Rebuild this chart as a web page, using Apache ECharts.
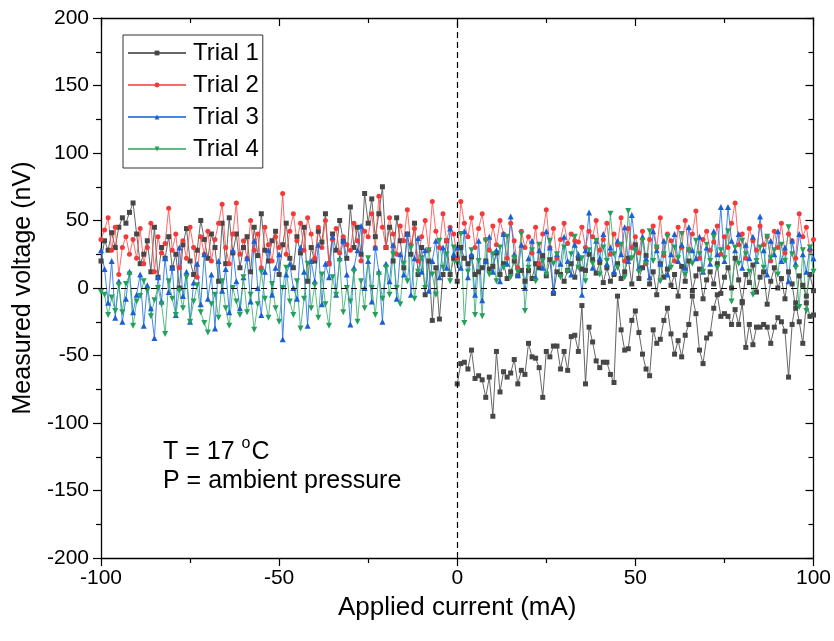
<!DOCTYPE html>
<html>
<head>
<meta charset="utf-8">
<script src="https://cdn.jsdelivr.net/npm/echarts@6/dist/echarts.min.js"></script>
<style>
  html, body { margin: 0; padding: 0; background: #fff; }
  #chart { width: 834px; height: 641px; }
</style>
</head>
<body>
<div id="chart"></div>
<script>
// applied current grid, mA (one point per mA)
const current = [];
for (let i = -100; i <= 100; i++) current.push(i);
const currentPos = current.filter(c => c >= 0);

// measured voltage, nV
const trial1 = [
  20, 35, 28, 41, 30, 45, 52, 48, 56, 63,
  40, 18, 25, 35, 12, 45, 8, 30, 22, 38,
  15, 25, 0, 32, 44, 20, 10, 28, 50, 36,
  22, 40, 30, 5, 48, 18, 52, 26, 40, 15,
  30, 38, 12, 45, 24, 55, 28, 20, 35, 42,
  10, 32, 48, 22, 15, 38, 26, 45, 5, 30,
  20, 42, 34, 55, 18, 40, 28, 50, 35, 22,
  60, 30, 45, 25, 70, 48, 66, 38, 55, 75,
  30, 45, 20, 52, 35, 15, 40, 25, 48, 10,
  30, -5, 20, -24, 15, -23, 10, 35, 10, 22,
  5,
  30, 22, 18, 23, 10, 12, 15, 20, 14, 16,
  26, 10, 18, 7, 12, 20, 9, 13, 5, 13,
  7, 18, 15, 24, 9, 21, -4, 12, 10, 5,
  13, 18, 8, 22, 14, 13, 25, 21, 11, 19,
  4, 15, 5, 10, 18, 7, 12, 22, 3, 32,
  7, 15, 24, 3, 12, -5, 18, 8, 14, 2,
  10, -6, 16, 5, 20, -2, 9, 14, -8, 6,
  12, 3, 18, -4, 8, 15, 0, 22, 6, -10,
  10, 4, 17, -3, 8, 12, -12, 5, 15, 0,
  7, -8, 12, 3, -15, 9, 2, -6, 10, -2
];
// second run of trial 1, 0..100 mA
const trial1Low = [
  -71, -56, -55, -60, -46, -67, -65, -68, -81, -66,
  -95, -47, -77, -62, -66, -63, -53, -71, -61, -64,
  -41, -51, -52, -59, -81, -47, -51, -43, -43, -60,
  -47, -61, -36, -35, -47, -13, -71, -29, -40, -54,
  -59, -55, -55, -64, -70, -6, -31, -46, -45, -24,
  -17, -33, -49, -60, -65, -31, -41, -38, -24, -15,
  -34, -49, -39, -51, -35, -27, -6, -19, -46, -56,
  -37, -34, -15, -5, -21, -19, -21, -27, -16, -27,
  -11, -44, -27, -42, -29, -29, -27, -29, -41, -29,
  -22, -25, -32, -66, -27, -11, -25, -41, -11, -21,
  -20
];
const trial2 = [
  36, 43, 52, 28, 45, 10, 30, 38, 25, 36,
  22, 44, 18, 30, 48, 12, 38, 26, 33, 59,
  28, 40, 15, 35, 22, 45, 30, 8, 38, 25,
  42, 20, 36, 48, 62, 30, 18, 40, 63, 25,
  35, 22, 50, 28, 40, 15, 45, 32, 20, 38,
  30, 70, 25, 42, 55, 35, 48, 28, 52, 40,
  22, 45, 30, 50, 18, 36, 44, 26, 38, 32,
  28, 48, 35, 20, 42, 38, 55, 30, 68, 45,
  30, 52, 40, 25, 46, 35, 58, 32, 44, 20,
  38, 50, 28, 64, 42, 30, 55, 35, 45, 40,
  22,
  64, 48, 38, 52, 30, 44, 55, 36, 28, 46,
  32, 50, 40, 22, 48, 35, 15, 42, 30, 38,
  26, 45, 18, 40, 58, 30, 44, 22, 36, 48,
  33, 40, 35, 34, 45, 30, 42, 38, 50, 28,
  36, 48, 25, 40, 32, 52, 20, 44, 30, 38,
  26, 42, 18, 36, 46, 30, 52, 24, 40, 35,
  20, 45, 30, 50, 28, 40, 57, 22, 36, 42,
  28, 34, 46, 25, 38, 30, 48, 63, 32, 40,
  22, 44, 35, 28, 46, 32, 38, 20, 42, 30,
  48, 26, 40, 35, 22, 55, 38, 45, 28, 36
];
const trial3 = [
  28, 14, -11, 20, -22, 5, -25, -8, 12, -18,
  -5, 10, -28, 2, -15, -37, 8, -10, 22, -3,
  15, -20, 30, -6, 12, -25, 4, 18, -12, 25,
  -8, 10, -30, 20, -2, 14, -18, 28, 5, -15,
  8, 22, -10, 35, 0, -20, 12, 28, -5, 15,
  25, -38, 10, 18, 0, -8, 30, 12, -28, 20,
  5, 32, -12, 18, 8, 38, -5, 22, 35, 10,
  -27, 15, 28, 46, 0, 20, -10, 30, 12, -25,
  18, 5, 32, -8, 25, 10, 40, -5, 22, 37,
  12, 28, -2, 20, 35, 8, 30, 15, 44, 25,
  30,
  15, 42, 8, 25, -5, 35, -9, 20, 38, 12,
  28, 5, 40, 18, 53, 25, 10, 32, 0, 22,
  35, 8, 28, 15, 42, 30, -2, 25, 18, 38,
  20, 10, 32, 25, -5, 28, 56, 15, 35, 22,
  40, 18, 30, 12, 35, 25, 45, 20, 54, 30,
  15, 38, 22, 8, 42, 28, 18, 35, 10, 25,
  40, 20, 32, 15, 45, 28, 22, 38, 12, 30,
  18, 42, 25, 60, 20, 60, 35, 28, 40, 15,
  32, 22, 38, 20, 53, 28, 10, 35, 25, 42,
  20, 30, 5, 35, 18, 40, 25, 12, 30, 22
];
const trial4 = [
  -3, -5, -20, -7, -17, 2, -18, 3, 10, -28,
  -10, -6, 5, -2, -21, -9, 0, -12, -34, 5,
  -8, -20, -2, -15, 8, -25, -10, 2, -18, -26,
  -33, -12, -5, -22, 5, -15, -28, 0, -10, -20,
  8, -18, -5, -31, -12, 12, -8, -22, 3, -15,
  -25, 0, 15, -10, -20, 5, -30, -8, 18, -15,
  2, -22, 10, -12, -28, 8, -5, 20, -18, 0,
  -10, 12, -25, 5, -15, 22, 0, -20, 10, -8,
  15, -5, 25, 0, -12, 18, 5, 30, -8, 12,
  22, 0, 28, 10, -5, 35, 15, 25, 5, 30,
  18,
  40, -26, 12, 28, -20, 20, -21, 35, 10, 25,
  5, 30, 15, 38, 8, 22, 12, 40, -17, 15,
  28, 5, 32, 20, 10, 35, 18, 25, 8, 30,
  12, 25, 38, 15, 22, 5, 28, 18, 35, 10,
  30, 20, 55, 25, 15, 32, 8, 57, 22, 28,
  12, 35, 18, 42, 20, 30, 5, 25, 38, 15,
  30, 22, 40, 10, 28, 18, 35, 25, 12, 32,
  20, 38, 15, 28, 22, 42, -10, 30, 18, 35,
  25, 12, -5, 20, 30, 15, 38, 22, 28, 10,
  32, 20, 45, 25, 15, -14, 28, -17, 30, 12
];

const pairs = (xs, ys) => xs.map((x, i) => [x, ys[i]]);
const downTriangle = 'path://M0,0 L2,0 L1,1.732 Z';
const FONT = 'Liberation Sans, Arial, sans-serif';

const chart = echarts.init(document.getElementById('chart'));

const baseSeries = (name, data, symbol, size, mark, line, lineOpacity) => ({
  name: name,
  type: 'line',
  data: data,
  symbol: symbol,
  symbolSize: size,
  showSymbol: true,
  itemStyle: { color: mark },
  lineStyle: { color: line, width: 1, opacity: lineOpacity },
  emphasis: { disabled: true },
  z: 2
});

const s1 = baseSeries('Trial 1', pairs(current, trial1), 'rect', 5, '#474747', '#555555', 0.9);
s1.markLine = {
  silent: true,
  symbol: 'none',
  label: { show: false },
  lineStyle: { color: '#000', type: [6, 4], width: 1.2 },
  data: [{ xAxis: 0 }, { yAxis: 0 }]
};

const tickStyle = { color: '#000', width: 1.2 };
const lineAxis = { onZero: false, lineStyle: { color: '#000', width: 1.3 } };

chart.setOption({
  animation: false,
  backgroundColor: '#fff',
  textStyle: { fontFamily: FONT },
  grid: { left: 101, right: 19, top: 18, bottom: 83 },
  legend: {
    left: 123,
    top: 35,
    orient: 'vertical',
    data: ['Trial 1', 'Trial 2', 'Trial 3', 'Trial 4'],
    borderColor: '#333',
    borderWidth: 1,
    padding: [6, 4, 7, 4],
    itemWidth: 58,
    itemHeight: 6,
    itemGap: 8,
    textStyle: { fontSize: 24, color: '#000', lineHeight: 24, padding: [0, 0, 0, 2] }
  },
  xAxis: [{
    type: 'value',
    min: -100,
    max: 100,
    interval: 50,
    name: 'Applied current (mA)',
    nameLocation: 'middle',
    nameGap: 37,
    nameTextStyle: { fontSize: 26, color: '#000' },
    axisLine: lineAxis,
    axisTick: { inside: false, length: 8, lineStyle: tickStyle },
    minorTick: { show: true, splitNumber: 2, length: 5, lineStyle: tickStyle },
    axisLabel: { fontSize: 21, color: '#000', margin: 10 },
    splitLine: { show: false }
  }, {
    type: 'value',
    position: 'top',
    min: -100,
    max: 100,
    interval: 50,
    axisLine: lineAxis,
    axisTick: { inside: true, length: 8, lineStyle: tickStyle },
    minorTick: { show: true, splitNumber: 2, length: 5, lineStyle: tickStyle },
    axisLabel: { show: false },
    splitLine: { show: false }
  }],
  yAxis: [{
    type: 'value',
    min: -200,
    max: 200,
    interval: 50,
    name: 'Measured voltage (nV)',
    nameLocation: 'middle',
    nameGap: 62,
    nameTextStyle: { fontSize: 25, color: '#000' },
    axisLine: lineAxis,
    axisTick: { inside: false, length: 8, lineStyle: tickStyle },
    minorTick: { show: true, splitNumber: 2, length: 5, lineStyle: tickStyle },
    axisLabel: { fontSize: 21, color: '#000', margin: 12 },
    splitLine: { show: false }
  }, {
    type: 'value',
    position: 'right',
    min: -200,
    max: 200,
    interval: 50,
    axisLine: lineAxis,
    axisTick: { inside: true, length: 8, lineStyle: tickStyle },
    minorTick: { show: true, splitNumber: 2, length: 5, lineStyle: tickStyle },
    axisLabel: { show: false },
    splitLine: { show: false }
  }],
  graphic: [{
    type: 'text',
    left: 163,
    top: 436,
    style: {
      text: '{a|T = 17 }{s|o}{a|C}',
      rich: {
        a: { fontSize: 25, fill: '#000', fontFamily: FONT },
        s: { fontSize: 16, fill: '#000', padding: [0, 1, 16, 0], fontFamily: FONT }
      }
    }
  }, {
    type: 'text',
    left: 163,
    top: 469,
    style: {
      text: 'P = ambient pressure',
      fontSize: 25,
      fill: '#000',
      fontFamily: FONT
    }
  }],
  series: [
    s1,
    baseSeries('Trial 1', pairs(currentPos, trial1Low), 'rect', 5, '#474747', '#555555', 0.9),
    baseSeries('Trial 2', pairs(current, trial2), 'circle', 5, '#f23a3a', '#ff4d4d', 0.85),
    baseSeries('Trial 3', pairs(current, trial3), 'triangle', 6, '#1a5fd6', '#2f7ae6', 0.9),
    baseSeries('Trial 4', pairs(current, trial4), downTriangle, 6, '#23a05a', '#3cb06e', 0.85)
  ]
});
</script>
</body>
</html>
